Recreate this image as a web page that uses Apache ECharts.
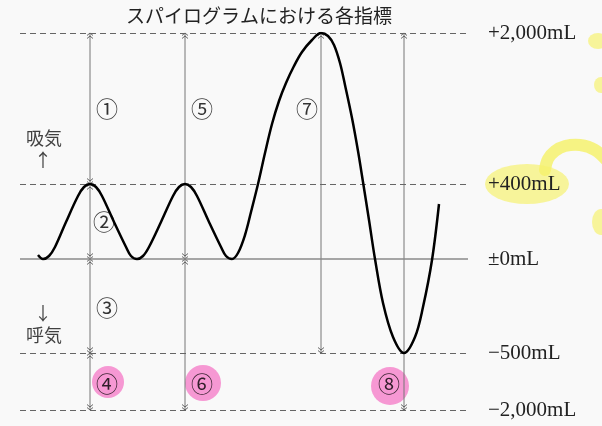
<!DOCTYPE html>
<html><head><meta charset="utf-8">
<script src="https://cdn.jsdelivr.net/npm/echarts@6/dist/echarts.min.js"></script>
<style>html,body{margin:0;padding:0;background:#f9f9f9}#c{width:602px;height:426px}</style>
</head><body><div id="c"></div>
<script>
// ---- data (diagram units: x = time, y = schematic volume height) ----
const title = 'スパイログラムにおける各指標';
const levelLabels = ['+2,000mL', '+400mL', '±0mL', '−500mL', '−2,000mL'];
const levelPos = [226, 75, 0, -94, -151];
const curveX = [18, 23, 29, 35, 46, 58, 64, 70, 76, 82, 94, 106, 111, 117, 123, 129, 141, 153, 159, 165,
  171, 177, 189, 201, 206, 212,
  218, 225, 231, 238, 245, 252, 259, 266, 274, 282, 292, 301,
  308, 314, 320, 325, 332, 338, 343, 349, 355, 363, 373, 384, 395, 403, 412, 419];
const curveY = [4, 0, 3, 12, 37, 63, 72, 75, 72, 63, 37, 12, 3, 0, 3, 12, 37, 63, 72, 75,
  72, 63, 37, 12, 3, 0,
  6, 24, 47, 75, 106, 135, 158, 176, 193, 207, 219, 226,
  223, 214, 196, 174, 141, 108, 77, 39, 0, -44, -78, -94, -78, -48, -1, 55];
const segLabels = ['①', '②', '③', '④', '⑤', '⑥', '⑦', '⑧'];
const segX = [70, 70, 70, 70, 165, 165, 301, 384];
const segFrom = [226, 75, 0, -94, 226, 0, 226, 226];
const segTo = [75, 0, -94, -151, 0, -151, -94, -151];
const labelX = [87, 84, 87, 87, 182, 182, 287, 369];
const labelY = [150, 37, -49, -125, 150, -125, 150, -125];
const sideLabels = ['吸気', '↑', '↓', '呼気'];
const sideX = [24, 23, 23, 24];
const sideY = [121, 99, -54, -76];
// hand-drawn highlight marks
const pinkX = [88, 183, 370];
const pinkY = [-123, -124, -127];
const yellowBlobX = [507, 578, 581, 581];
const yellowBlobY = [75, 218, 174, 37];
const yellowCurlX = [525, 528, 535, 545, 560, 575, 588];
const yellowCurlY = [89, 100, 108, 113, 114, 109, 97];

const serif = '"Liberation Serif", "DejaVu Serif", "Noto Sans CJK JP", serif';
const jp = '"Noto Sans CJK JP", sans-serif';
const yellow = 'rgba(246,242,110,0.85)';

const chart = echarts.init(document.getElementById('c'));
chart.setOption({
  backgroundColor: '#f9f9f9',
  animation: false,
  title: {
    text: title, left: 121, top: 1,
    textStyle: { fontFamily: jp, fontSize: 19, fontWeight: 'normal', color: '#222' }
  },
  grid: { left: 20, right: 134, top: 33, bottom: 16 },
  xAxis: { type: 'value', min: 0, max: 448, show: false },
  yAxis: { type: 'value', min: -151, max: 226, show: false },
  series: [
    // yellow highlighter
    {
      type: 'scatter', z: 1, silent: true, clip: false,
      symbol: 'circle',
      symbolSize: (v, p) => [[84, 40], [20, 16], [14, 16], [18, 26]][p.dataIndex],
      itemStyle: { color: yellow },
      data: yellowBlobX.map((x, i) => [x, yellowBlobY[i]])
    },
    {
      type: 'custom', z: 1, silent: true, clip: false,
      data: [0],
      renderItem: (params, api) => {
        const pts = yellowCurlX.map((x, i) => api.coord([x, yellowCurlY[i]]));
        return {
          type: 'polyline', shape: { points: pts, smooth: 0.4 },
          style: { stroke: yellow, lineWidth: 12, lineCap: 'round', fill: null }
        };
      }
    },
    // pink highlighter
    {
      type: 'scatter', z: 1, silent: true,
      symbolSize: (v, p) => [32, 36, 38][p.dataIndex],
      itemStyle: { color: '#f57fc9' },
      data: pinkX.map((x, i) => [x, pinkY[i]])
    },
    // level lines and their labels
    {
      type: 'line', z: 3, data: [], silent: true,
      markLine: {
        silent: true, symbol: ['none', 'none'],
        data: levelPos.map((v, i) => ({
          yAxis: v,
          lineStyle: v === 0
            ? { type: 'solid', color: '#8a8a8a', width: 1.5 }
            : { type: [6, 4], color: '#666', width: 1 },
          label: {
            show: true, position: 'end', distance: 20, formatter: levelLabels[i],
            fontFamily: serif, fontSize: 21, color: '#222'
          }
        }))
      }
    },
    // measurement arrows
    {
      type: 'custom', z: 4, silent: true,
      data: segX.map((x, i) => [x, segFrom[i], segTo[i]]),
      renderItem: (params, api) => {
        const x = api.value(0);
        const a = api.coord([x, api.value(1)]);
        const b = api.coord([x, api.value(2)]);
        const children = [{
          type: 'line', shape: { x1: a[0], y1: a[1], x2: b[0], y2: b[1] },
          style: { stroke: '#777', lineWidth: 1 }
        }];
        const chev = (t, s) => {
          for (let k = 0; k < 2; k++) {
            const ty = t[1] - s * 3 * k;
            children.push({
              type: 'polyline',
              shape: { points: [[t[0] - 3, ty - s * 2.5], [t[0], ty], [t[0] + 3, ty - s * 2.5]] },
              style: { stroke: '#555', lineWidth: 0.9, fill: null }
            });
          }
        };
        chev(a, Math.sign(a[1] - b[1]));
        chev(b, Math.sign(b[1] - a[1]));
        return { type: 'group', children };
      }
    },
    // spirogram curve
    {
      type: 'line', z: 5, smooth: 0.35, symbol: 'none', silent: true,
      lineStyle: { color: '#000', width: 2.5 },
      data: curveX.map((x, i) => [x, curveY[i]])
    },
    // circled numbers
    {
      type: 'scatter', z: 6, silent: true, symbolSize: 1,
      itemStyle: { color: 'rgba(0,0,0,0)' },
      label: { show: true, position: 'inside', formatter: p => p.name, fontFamily: jp, fontSize: 22, color: '#000' },
      data: segLabels.map((n, i) => ({ name: n, value: [labelX[i], labelY[i]] }))
    },
    // inhale / exhale labels
    {
      type: 'scatter', z: 6, silent: true, symbolSize: 1,
      itemStyle: { color: 'rgba(0,0,0,0)' },
      label: { show: true, position: 'inside', formatter: p => p.name, fontFamily: jp, fontSize: 18, color: '#111' },
      data: sideLabels.map((n, i) => ({ name: n, value: [sideX[i], sideY[i]] }))
    }
  ]
});
</script></body></html>
